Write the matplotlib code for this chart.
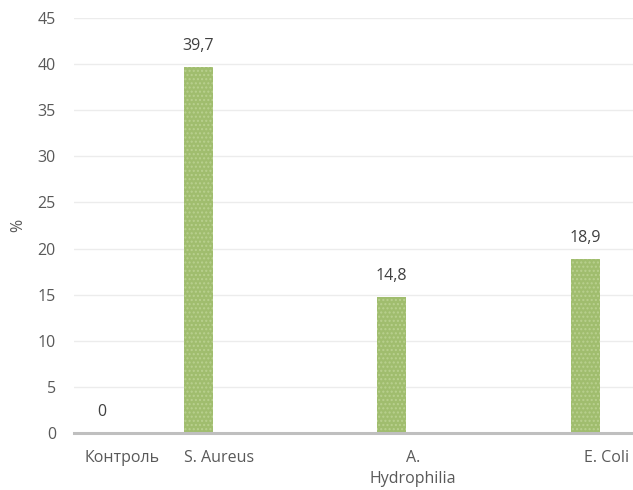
import matplotlib
matplotlib.use("Agg")
import matplotlib.pyplot as plt
import numpy as np

# категории (пустые слоты как в исходной диаграмме)
categories = ["Контроль", "S. Aureus", "", "A.\nHydrophilia", "", "E. Coli"]
values = [0, 39.7, np.nan, 14.8, np.nan, 18.9]
value_labels = ["0", "39,7", "", "14,8", "", "18,9"]
yticks = [0, 5, 10, 15, 20, 25, 30, 35, 40, 45]

plt.rcParams["font.family"] = ["Open Sans", "DejaVu Sans"]
fs = 11.5

fig = plt.figure(figsize=(6.33, 4.9), dpi=100)
ax = fig.add_axes([74 / 633, 57 / 490, 580.5 / 633, 415 / 490])

x = np.arange(len(categories))
offset = -0.217
bars = ax.bar(x + offset, values, width=0.30, color="#a0bd6e",
              edgecolor="#b9d08f", hatch="....", linewidth=0, zorder=3)

for xi, v, lab in zip(x, values, value_labels):
    if np.isnan(v):
        continue
    ax.annotate(lab, (xi + offset, v), xytext=(0, 15), textcoords="offset points",
                ha="center", va="center", fontsize=fs, color="#404040")

ax.set_xlim(-0.5, len(categories) - 0.5)
ax.set_ylim(0, 45)
ax.set_yticks(yticks)
ax.set_xticks(x)
ax.set_xticklabels(categories, fontsize=fs, color="#595959", linespacing=1.4)
ax.tick_params(axis="y", length=0, pad=13, labelsize=fs, labelcolor="#595959")
ax.tick_params(axis="x", length=0, pad=12.5)
for lbl in ax.get_xticklabels():
    lbl.set_va("top")

ax.grid(axis="y", color="#ececec", linewidth=1, zorder=0)
for s in ["top", "right", "left"]:
    ax.spines[s].set_visible(False)
ax.spines["bottom"].set_color("#bfbfbf")
ax.spines["bottom"].set_linewidth(2.2)
ax.spines["bottom"].set_zorder(4)

ax.set_ylabel("%", fontsize=fs, color="#595959", labelpad=8)

fig.savefig("out.png", dpi=100)
